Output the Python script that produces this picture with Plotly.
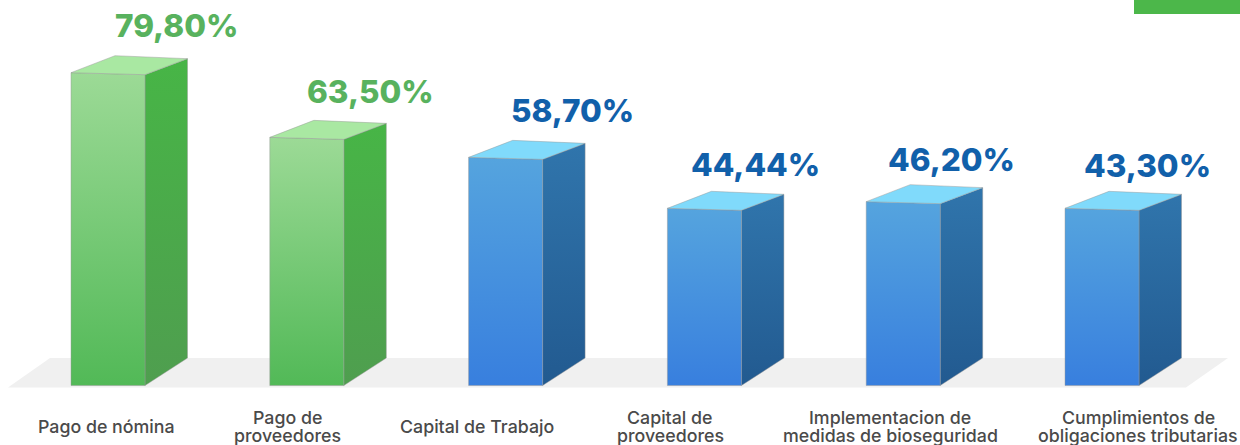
import plotly.graph_objects as go

# ---- data ----
categories = ["Pago de nómina", "Pago de<br>proveedores", "Capital de Trabajo",
              "Capital de<br>proveedores", "Implementacion de<br>medidas de bioseguridad",
              "Cumplimientos de<br>obligaciones tributarias"]
value_labels = [79.80, 63.50, 58.70, 44.44, 46.20, 43.30]
# column heights as they are drawn in the picture (same % scale)
drawn_heights = [79.8, 63.3, 58.2, 45.2, 46.9, 45.2]
series_group = ["green", "green", "blue", "blue", "blue", "blue"]

# ---- layout / style ----
W, H = 1240, 445
PX_X = 198.8            # pixels per category step
PX_Y = 3.92             # pixels per percentage point
BASE_PX_X, BASE_PX_Y = 108.0, 385.5
px = lambda d: d / PX_X
py = lambda d: d / PX_Y

HALF = px(37)
DEPTH = px(42.5)
DEPTH_BACK = px(43.5)
RISE_TOP = py(16)
RISE_BOT = py(27.5)
TILT = py(2)

PALETTE = {
    "green": dict(front=("#9CDA96", "#52B957"), side=("#47B546", "#4F9E4F"), top="#A9E8A2", text="#58B25E"),
    "blue": dict(front=("#55A4DE", "#387FDE"), side=("#3075AC", "#225A90"), top="#80DAFB", text="#1160AA"),
}
value_dx = [68, 63.5, 67, 51, 48, 45]
value_dy = [47, 46, 47, 44, 42, 43]
cat_dx = [-2, -19, -29, -34, -13, 36]
LINE_GAP = 18

fig = go.Figure()

# floor
fig.add_trace(go.Scatter(
    x=[px(8 - BASE_PX_X), px(50 - BASE_PX_X), px(1228 - BASE_PX_X), px(1186 - BASE_PX_X), px(8 - BASE_PX_X)],
    y=[py(-2), py(27.5), py(27.5), py(-2), py(-2)],
    fill="toself", fillcolor="#F0F0F0", mode="lines", line=dict(color="#F0F0F0", width=0),
    hoverinfo="skip", showlegend=False))

EDGE = dict(color="rgba(150,150,150,0.45)", width=1)


def face(xs, ys, colors=None, solid=None):
    kw = dict(x=xs, y=ys, fill="toself", mode="lines", line=EDGE, hoverinfo="skip", showlegend=False)
    if colors:
        kw["fillgradient"] = dict(type="vertical", colorscale=[[0, colors[1]], [1, colors[0]]])
    else:
        kw["fillcolor"] = solid
    fig.add_trace(go.Scatter(**kw))


for i, (h, g) in enumerate(zip(drawn_heights, series_group)):
    p = PALETTE[g]
    xl, xr = i - HALF, i + HALF
    # side
    face([xr, xr + DEPTH, xr + DEPTH, xr, xr],
         [h - TILT, h - TILT + RISE_TOP, RISE_BOT, 0, h - TILT], colors=p["side"])
    # front
    face([xl, xr, xr, xl, xl], [h, h - TILT, 0, 0, h], colors=p["front"])
    # top
    face([xl, xr, xr + DEPTH, xl + DEPTH_BACK + px(0.5), xl],
         [h, h - TILT, h - TILT + RISE_TOP, h + RISE_TOP + py(1), h], solid=p["top"])

annotations = []
for i, (v, h, g) in enumerate(zip(value_labels, drawn_heights, series_group)):
    annotations.append(dict(
        x=i, y=h, xref="x", yref="y", xshift=value_dx[i], yshift=value_dy[i],
        text=f"{v:.2f}%".replace(".", ","), showarrow=False, xanchor="center", yanchor="middle",
        font=dict(family="Inter", size=31.5, weight=800, color=PALETTE[g]["text"])))
for i, c in enumerate(categories):
    lines = c.split("<br>")
    for k, line in enumerate(lines):
        annotations.append(dict(
            x=i, y=0, xref="x", yref="y", xshift=cat_dx[i],
            yshift=-41 + LINE_GAP * ((len(lines) - 1) / 2 - k),
            text=line, showarrow=False, xanchor="center", yanchor="middle", align="center",
            font=dict(family="Inter", size=17.8, weight=500, color="#4A4A4A")))

fig.update_layout(
    width=W, height=H, autosize=False,
    margin=dict(l=0, r=0, t=0, b=0),
    paper_bgcolor="white", plot_bgcolor="white", showlegend=False,
    xaxis=dict(range=[px(-BASE_PX_X), px(W - BASE_PX_X)], visible=False, fixedrange=True),
    yaxis=dict(range=[py(BASE_PX_Y - H), py(BASE_PX_Y)], visible=False, fixedrange=True),
    annotations=annotations,
    shapes=[dict(type="rect", xref="paper", yref="paper", x0=1134 / W, x1=1, y0=1 - 14 / H, y1=1,
                 fillcolor="#4CB74A", line=dict(width=0))],
)
fig.write_html("out.html", config={"displayModeBar": False},
               post_script="document.body.style.margin='0';document.body.style.overflow='hidden';")
